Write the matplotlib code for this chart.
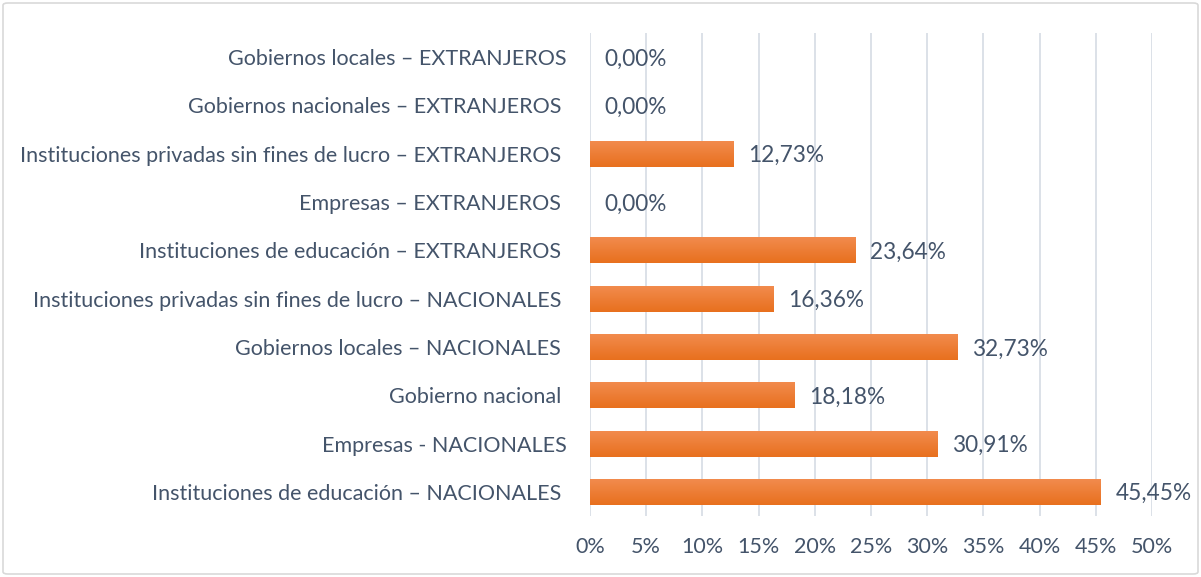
import matplotlib
matplotlib.use("Agg")
import matplotlib.pyplot as plt
import numpy as np
from matplotlib.patches import FancyBboxPatch
from matplotlib.colors import LinearSegmentedColormap

categories = [
    "Instituciones de educación – NACIONALES ",
    "Empresas - NACIONALES",
    "Gobierno nacional ",
    "Gobiernos locales – NACIONALES ",
    "Instituciones privadas sin fines de lucro – NACIONALES ",
    "Instituciones de educación – EXTRANJEROS ",
    "Empresas – EXTRANJEROS ",
    "Instituciones privadas sin fines de lucro – EXTRANJEROS ",
    "Gobiernos nacionales – EXTRANJEROS ",
    "Gobiernos locales – EXTRANJEROS",
]
values = [45.45, 30.91, 18.18, 32.73, 16.36, 23.64, 0.00, 12.73, 0.00, 0.00]
xticks = [0, 5, 10, 15, 20, 25, 30, 35, 40, 45, 50]

TEXT = "#44546A"
GRID = "#D9DEE6"
FS = 15.5
plt.rcParams['font.family'] = ['Lato', 'DejaVu Sans']

fig = plt.figure(figsize=(12.01, 5.77), dpi=100)
ax = fig.add_axes([590/1201, 1-516/577, (1152-590)/1201, (516-33)/577])

y = np.arange(len(categories))
bars = ax.barh(y, values, height=0.54, color="#ED7D31", zorder=2)

cmap = LinearSegmentedColormap.from_list("g", ["#F28C4F", "#E8701E"])
grad = np.linspace(0, 1, 64).reshape(-1, 1)
for b in bars:
    if b.get_width() <= 0:
        continue
    x0, y0 = b.get_x(), b.get_y()
    w, h = b.get_width(), b.get_height()
    im = ax.imshow(grad, cmap=cmap, aspect="auto",
                   extent=[x0, x0 + w, y0, y0 + h], origin="upper", zorder=3)
    im.set_clip_path(b)

for yi, v in zip(y, values):
    ax.text(v + 1.3, yi - 0.04, f"{v:.2f}".replace(".", ",") + "%", va="center", ha="left",
            fontsize=16.3, color=TEXT, zorder=4)

ax.set_xlim(0, 50)
ax.set_ylim(-0.5, len(categories) - 0.5)
ax.set_xticks(xticks)
ax.set_xticklabels([f"{t}%" for t in xticks], fontsize=FS, color=TEXT)
ax.set_yticks(y)
ax.set_yticklabels(categories, fontsize=FS, color=TEXT)
ax.tick_params(axis="both", length=0)
ax.tick_params(axis="y", pad=17)
ax.tick_params(axis="x", pad=15)
ax.grid(axis="x", color=GRID, linewidth=1.3, zorder=0)
ax.set_axisbelow(True)
for s in ax.spines.values():
    s.set_visible(False)

border = FancyBboxPatch((3/1201, 3/577), 1 - 6/1201, 1 - 6/577,
                        boxstyle="round,pad=0,rounding_size=0.004",
                        transform=fig.transFigure, facecolor="none",
                        edgecolor="#D9D9D9", linewidth=1.2)
fig.patches.append(border)

fig.savefig("out.png", dpi=100)
